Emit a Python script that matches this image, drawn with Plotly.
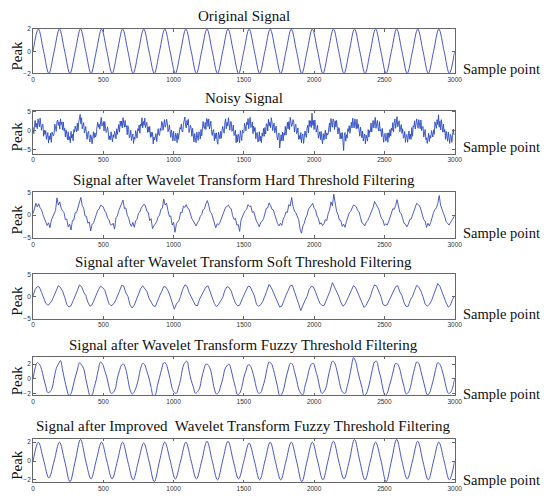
import numpy as np
import plotly.graph_objects as go

titles = ['Original Signal',
          'Noisy Signal',
          'Signal after Wavelet Transform Hard Threshold Filtering',
          'Signal after Wavelet Transform Soft Threshold Filtering',
          'Signal after Wavelet Transform Fuzzy Threshold Filtering',
          'Signal after Improved  Wavelet Transform Fuzzy Threshold Filtering']

x_ticks = [0, 500, 1000, 1500, 2000, 2500, 3000]

original = [
    0, 2, 0, -2, 0, 2, 0, -2, 0, 2, 0, -2, 0, 2, 0, -2, 0, 2, 0, -2,
    0, 2, 0, -2, 0, 2, 0, -2, 0, 2, 0, -2, 0, 2, 0, -2, 0, 2, 0, -2,
    0, 2, 0, -2, 0, 2, 0, -2, 0, 2, 0, -2, 0, 2, 0, -2, 0, 2, 0, -2,
    0, 2, 0, -2, 0, 2, 0, -2, 0, 2, 0, -2, 0, 2, 0, -2, 0, 2, 0, -2,
    0]

noisy = [
    0.9, -0.8, 1.2, 2.7, 0.9, 1.9, 0.5, 3.1, 2.3, 1.0, 3.3, 1.2, 0.1, 1.5, 1.7, -1.5, 0.1, -1.0, 0.0, -2.3, -1.6, -0.5, -3.3, -1.4, -2.4, -0.7, -3.1, -0.4, -0.9, -1.4,
    -0.7, 1.7, 0.6, -0.2, 2.4, 2.8, 1.4, 2.3, 0.4, 3.1, 1.6, 2.3, 0.2, 2.3, 0.0, 0.6, -1.7, 0.2, -1.0, -2.4, -0.3, -2.5, -1.6, -3.2, -0.2, -2.0, -1.0, -2.7, 0.3, -0.4,
    1.2, 0.5, -0.3, 2.0, 0.0, 2.2, 3.2, 4.3, 1.8, 3.4, 0.5, 1.9, 2.1, -0.6, 0.4, 1.1, -1.0, -2.3, -0.5, -0.2, -2.1, -3.0, -1.1, -1.7, -3.5, -1.1, -0.3, -2.0, -0.6, -1.7,
    -1.1, 1.0, 2.2, 0.9, 1.7, 0.4, 2.8, 3.5, 1.2, 1.5, 2.4, -0.1, 2.4, 1.1, -0.5, -0.2, 1.0, -0.3, -2.4, -1.4, -2.4, -0.3, -2.5, -3.0, -1.1, -1.8, -0.2, -0.8, -2.2, 0.5,
    -1.0, 0.3, 1.6, -0.4, 2.5, 1.2, 2.5, 0.7, 3.4, 2.0, 0.9, 2.7, 1.0, 1.3, -1.1, 1.3, 0.3, -1.9, -1.5, 0.1, -2.6, -1.6, -0.9, -3.4, -1.7, -2.3, 0.0, -0.8, -2.0, 0.5,
    0.0, 1.5, -0.7, 1.7, 1.2, 3.4, 0.7, 2.4, 1.4, 3.3, 0.8, 1.7, 2.2, -0.5, 1.0, -0.4, 1.1, -1.8, -0.4, -1.6, -0.5, -3.5, -1.7, -2.5, -0.8, -0.8, -2.9, -1.4, 0.5, -1.1,
    -1.3, 0.6, 0.0, 2.4, 2.1, 0.1, 2.2, 2.9, 0.9, 1.5, 3.0, 2.2, -0.3, 0.2, 1.5, 0.0, -1.8, 0.1, -0.8, -2.7, -0.2, -2.1, -2.7, -0.7, -1.4, -3.2, -0.7, -2.3, -0.7, 0.8,
    0.4, 1.7, -0.1, -0.4, 1.7, 2.8, 3.6, 1.5, 0.7, 2.7, 1.5, 3.0, -0.5, 0.4, 1.4, 0.6, -1.5, 0.6, -1.9, -3.0, -0.8, -1.6, -3.2, -0.4, -2.0, -2.6, -0.3, -0.7, -2.2, 0.3,
    -1.4, 1.1, 2.4, 0.9, 0.5, 2.2, 0.3, 3.2, 2.9, 1.1, 3.1, 0.4, 1.4, 2.5, -0.2, -1.3, 0.0, 0.3, -2.7, -0.7, -2.1, -0.6, -2.9, -3.6, -0.4, -1.6, -2.2, -0.2, -2.0, 0.2,
    1.1, -0.2, -0.7, 2.1, 3.1, 0.5, 2.2, 1.2, 3.4, 1.9, 0.1, 2.3, 2.4, -0.2, 0.1, 1.5, -1.3, -1.0, 0.1, -3.2, -1.1, -3.0, -1.0, -1.6, -3.2, 0.0, -2.0, -2.6, 0.1, -0.6,
    -0.5, 1.9, 1.0, -0.1, 2.2, 1.6, 3.2, 0.5, 2.5, 3.5, 0.8, 1.1, 2.3, -0.8, 1.2, -0.2, 0.8, -2.2, -0.9, -0.5, -3.0, -2.5, -0.3, -2.8, -1.5, -3.2, -0.6, -1.5, 0.6, -1.5,
    0.8, -0.9, 1.8, 1.7, -0.1, 3.0, 1.2, 2.2, 0.8, 3.4, 2.3, 0.0, 1.1, 2.0, -0.6, 0.7, 1.2, -1.4, -2.5, -1.1, -0.6, -4.6, -2.0, -1.1, -2.7, -0.4, -2.7, -0.6, -1.2, 1.1,
    -1.2, 0.7, 2.2, 0.5, 2.4, 0.2, 3.5, 2.4, 1.1, 1.6, 2.9, 2.2, -0.4, 1.3, 1.7, -0.8, -0.5, 0.7, -2.3, -1.3, -2.3, -0.5, -3.3, -1.2, -0.9, -3.4, -1.2, -0.1, -1.3, -1.8,
    0.6, 1.4, -0.6, 2.7, 1.1, 2.6, 0.8, 4.6, 1.4, 2.7, 0.3, 2.8, 1.6, -0.4, 0.5, 1.4, -2.0, -0.3, -0.3, -2.4, -0.2, -2.2, -3.5, -0.8, -2.5, -1.1, 0.1, -2.2, -0.6, -1.2,
    -0.9, 0.9, 2.0, -0.3, 3.2, 1.7, 0.9, 3.1, 2.6, 0.3, 2.6, 1.0, 2.7, 0.6, -0.9, 0.8, 0.6, -2.2, -0.6, -2.1, -0.5, -2.8, -5.3, -1.3, -0.5, -2.8, -1.1, -2.0, 0.5, -0.2,
    1.3, -0.7, 1.4, 2.2, 0.7, 3.3, 1.5, 0.7, 3.1, 2.2, 0.5, 3.0, 0.6, 1.7, 0.6, -1.5, 0.9, -0.8, -1.9, -0.1, -2.7, -1.4, -0.9, -3.5, -1.2, -2.0, -2.8, 0.3, -1.7, 0.0,
    -0.3, 2.0, -0.4, 1.6, 2.7, 0.7, 2.7, 3.5, 0.6, 2.4, 2.7, 0.8, -0.1, 2.4, -0.1, 0.3, -1.6, 0.6, -1.1, -3.1, -1.0, -0.7, -2.8, -2.2, -0.6, -3.1, -0.6, -1.8, 0.3, -1.4,
    0.7, 0.0, 2.1, -0.4, 2.1, 3.1, 0.6, 2.2, 3.7, 1.0, 2.1, 2.6, -0.3, 0.8, 1.6, -0.7, 0.5, -2.0, -1.7, -0.2, -3.1, -1.3, -1.0, -3.1, -2.1, -0.1, -2.3, -0.9, -2.3, 0.8,
    -1.5, 1.3, 0.9, 2.6, 0.4, 2.2, 3.1, 1.4, 0.6, 2.9, 2.0, 0.5, 2.8, 0.0, 1.0, 1.1, -1.7, -0.6, 0.3, -2.4, -1.9, -3.4, -1.2, -0.7, -2.9, -1.3, -2.0, 0.0, -0.8, -1.7,
    0.2, -1.0, 2.3, 1.5, 0.6, 2.9, 1.6, 4.2, 0.9, 2.5, 0.2, 2.9, 1.7, -0.4, 1.7, -0.4, 0.3, -2.3, -0.2, -1.3, -2.8, -0.4, -2.6, -3.4, -1.0, -1.6, -3.1, -0.4, 0.4, -1.1,
    -1.0]

hard = [
    0.3, 1.4, 2.6, 1.8, 2.5, 1.6, 1.2, 0.1, -0.6, -1.5, -2.3, -1.7, -2.8, -1.1, -0.4,
    0.2, 1.0, 3.8, 2.2, 2.9, 1.5, 0.9, 0.6, -1.0, -0.9, -2.6, -2.0, -3.3, -1.2, -1.1,
    0.5, 0.6, 1.8, 2.4, 3.9, 2.1, 1.5, -0.2, -0.3, -1.8, -1.5, -3.5, -2.1, -1.7, -0.5,
    0.1, 1.1, 1.3, 2.2, 2.0, 1.8, 0.9, 0.5, -0.7, -1.0, -2.1, -2.2, -1.8, -3.1, -0.6,
    -0.2, 1.0, 1.9, 2.8, 3.3, 1.4, 1.6, 0.0, -0.6, -1.9, -2.5, -1.6, -2.7, -1.3, -0.9,
    0.4, 0.7, 1.6, 2.1, 2.4, 2.0, 0.8, 0.6, -1.2, -0.8, -3.0, -2.3, -2.0, -1.4, -0.4,
    0.0, 1.3, 1.5, 3.5, 2.2, 2.6, 1.0, -0.3, -0.2, -2.2, -1.6, -3.8, -1.9, -1.5, -1.0,
    0.6, 0.5, 2.0, 1.7, 2.3, 1.5, 1.3, 0.2, -0.8, -1.3, -2.0, -2.4, -1.7, -1.2, -0.3,
    0.1, 1.2, 1.4, 2.5, 3.2, 2.2, 0.7, 0.4, -0.5, -1.6, -2.8, -1.9, -2.2, -1.6, -0.7,
    -0.1, 0.9, 1.7, 1.9, 2.2, 1.6, 1.4, -0.1, -1.0, -0.7, -2.2, -2.1, -3.6, -1.1, -0.2,
    0.4, 1.0, 1.3, 2.3, 1.9, 2.0, 0.6, 0.8, -0.6, -1.4, -1.9, -2.6, -1.6, -1.4, -0.8,
    0.2, 1.5, 1.6, 2.7, 2.1, 1.3, 1.1, 0.0, -0.9, -1.9, -2.4, -1.8, -2.3, -0.9, -0.3,
    0.7, 0.6, 2.3, 2.0, 3.9, 1.9, 0.9, 0.5, -0.4, -1.0, -3.1, -4.0, -2.4, -1.8, -0.6,
    0.0, 1.3, 1.8, 2.4, 2.6, 1.5, 1.2, -0.2, -0.7, -2.0, -1.7, -2.3, -1.9, -1.0, -1.2,
    0.3, 1.1, 2.9, 2.0, 4.6, 2.3, 0.8, 0.1, -1.1, -1.2, -2.5, -2.0, -2.7, -1.4, -0.5,
    0.5, 0.8, 1.5, 2.2, 2.1, 1.8, 1.0, 0.7, -0.5, -1.7, -1.9, -2.4, -1.6, -1.3, -0.6,
    0.2, 1.0, 1.7, 3.0, 2.4, 1.6, 1.3, 0.1, -0.8, -1.1, -2.3, -1.9, -2.2, -1.5, -0.4,
    0.4, 1.4, 1.3, 2.1, 3.4, 1.7, 0.6, 0.3, -0.6, -1.8, -2.0, -2.6, -2.0, -1.0, -0.9,
    0.1, 0.9, 2.0, 2.6, 2.3, 2.1, 1.2, -0.1, -1.0, -1.3, -2.7, -1.8, -2.4, -1.6, -0.3,
    0.6, 1.2, 1.6, 2.5, 4.3, 2.2, 1.0, 0.4, -0.4, -1.5, -1.8, -2.2, -1.7, -1.2, -0.5,
    -0.1]

soft = [
    0.1, 1.6, 2.2, 2.1, 0.9, -0.3, -1.5, -2.0, -1.6, -0.9,
    0.3, 1.4, 2.4, 2.0, 1.2, -0.2, -1.8, -2.4, -2.1, -1.0,
    0.0, 1.3, 2.6, 2.2, 1.0, 0.2, -1.3, -2.2, -1.9, -0.7,
    0.2, 1.5, 2.3, 2.0, 1.4, -0.1, -1.6, -2.1, -1.8, -1.1,
    -0.1, 1.2, 2.5, 2.3, 0.8, 0.0, -1.9, -2.6, -2.0, -0.8,
    0.4, 1.7, 2.4, 1.8, 1.1, -0.4, -1.4, -2.1, -2.3, -0.9,
    0.1, 1.1, 2.2, 2.1, 1.3, 0.1, -1.7, -2.9, -1.7, -1.2,
    0.0, 1.6, 2.6, 2.3, 0.9, -0.2, -1.2, -2.0, -2.1, -0.6,
    0.3, 1.3, 2.1, 2.4, 1.0, 0.0, -1.6, -2.3, -1.8, -1.0,
    -0.2, 1.4, 2.2, 2.0, 1.2, -0.3, -1.5, -2.1, -2.0, -0.8,
    0.2, 1.2, 2.3, 2.2, 1.1, 0.1, -1.8, -2.2, -1.9, -1.1,
    0.1, 1.5, 2.7, 2.0, 0.8, -0.1, -1.4, -2.4, -2.2, -0.7,
    0.3, 1.3, 2.4, 2.5, 1.2, 0.0, -1.7, -3.2, -1.9, -0.9,
    0.0, 1.6, 2.3, 2.1, 1.0, -0.2, -1.5, -2.0, -2.1, -1.0,
    0.2, 1.4, 3.1, 2.2, 1.3, 0.1, -1.3, -2.2, -1.8, -0.8,
    0.1, 1.2, 2.4, 2.0, 0.9, -0.3, -1.6, -2.5, -2.0, -1.2,
    -0.1, 1.5, 2.6, 2.3, 1.1, 0.0, -1.8, -2.1, -1.9, -0.9,
    0.3, 1.4, 2.2, 2.4, 1.0, 0.2, -1.4, -2.3, -2.2, -0.8,
    0.0, 1.3, 2.5, 2.1, 1.2, -0.1, -1.7, -2.2, -1.8, -1.0,
    0.2, 1.6, 2.9, 2.3, 0.9, 0.0, -1.5, -2.4, -2.0, -0.7,
    0.1]

fuzzy = [
    0.0, 1.5, 2.2, 2.0, 1.3, 0.1, -1.0, -1.9, -1.8, -1.3,
    0.1, 1.4, 2.0, 2.5, 1.2, -0.2, -1.4, -2.3, -2.0, -1.0,
    0.2, 1.2, 2.2, 1.9, 1.4, 0.0, -1.3, -2.3, -2.2, -1.2,
    -0.1, 1.3, 2.3, 2.0, 1.1, 0.2, -1.1, -2.0, -1.9, -1.4,
    0.1, 1.1, 1.9, 2.0, 1.3, -0.1, -1.5, -2.1, -1.8, -1.1,
    0.0, 1.4, 2.1, 1.9, 1.0, 0.1, -1.2, -2.3, -2.2, -0.9,
    0.2, 1.3, 2.2, 2.1, 1.2, 0.0, -1.3, -1.9, -2.0, -1.2,
    -0.1, 1.5, 2.2, 2.4, 1.1, -0.2, -1.1, -2.0, -1.8, -1.3,
    0.1, 1.2, 2.0, 1.9, 1.4, 0.1, -1.4, -2.1, -1.9, -1.0,
    0.0, 1.3, 1.8, 2.0, 1.2, -0.1, -1.2, -2.2, -2.0, -1.2,
    0.2, 1.1, 1.9, 1.8, 1.1, 0.0, -1.3, -2.0, -1.9, -1.1,
    -0.1, 1.4, 2.3, 2.1, 1.3, 0.1, -1.1, -2.3, -2.1, -1.3,
    0.1, 1.2, 2.1, 2.0, 1.0, -0.1, -1.4, -2.0, -2.2, -1.0,
    0.0, 1.3, 2.0, 2.1, 1.2, 0.2, -1.2, -2.0, -1.8, -1.2,
    0.2, 1.5, 2.4, 2.2, 1.3, 0.0, -1.3, -1.9, -2.0, -1.1,
    0.1, 1.6, 2.9, 2.4, 1.1, -0.1, -1.2, -2.3, -2.1, -1.3,
    -0.1, 1.3, 2.3, 2.4, 1.2, 0.1, -1.4, -2.3, -2.0, -1.0,
    0.0, 1.2, 2.1, 2.0, 1.3, 0.0, -1.1, -2.1, -1.9, -1.2,
    0.2, 1.4, 2.3, 2.1, 1.0, -0.1, -1.3, -2.2, -2.0, -1.1,
    0.0, 1.3, 2.2, 2.0, 1.2, 0.1, -1.2, -2.0, -1.9, -1.3,
    0.0]

improved = [
    0, 2.0, 0.1, -1.8, 0, 2.0, 0.0, -2.2, 0, 2.3, 0.0, -1.9,
    0.1, 2.0, 0.0, -1.9, 0, 2.0, -0.1, -2.0, 0, 1.9, 0.0, -2.2,
    0, 2.0, 0.1, -1.9, 0, 2.0, 0.0, -1.9, 0, 2.1, 0.0, -2.0,
    0.1, 2.1, 0.0, -1.9, 0, 1.9, 0.0, -2.0, 0, 2.0, -0.1, -2.0,
    0, 2.0, 0.0, -2.2, 0, 2.0, 0.0, -2.0, 0.1, 2.1, 0.0, -1.9,
    0, 2.3, 0.0, -2.0, 0, 2.0, 0.1, -2.2, 0, 2.3, 0.0, -1.9,
    0, 2.1, -0.1, -2.0, 0, 2.0, 0.0, -2.0,
    0]

series = [original, noisy, hard, soft, fuzzy, improved]
y_ranges = [[-2, 2], [-6.1, 5.3], [-5, 5], [-5, 5], [-2.3, 3.05], [-2.25, 2.35]]
y_ticks = [[-2, 0, 2], [-5, 0, 5], [-5, 0, 5], [-5, 0, 5], [-2, 0, 2], [-2, 0, 2]]

# the page body adds an 8px margin, so the figure is drawn that much smaller
# and all pixel positions below (measured on the picture) are shifted back
PAGE = 8
W, H = 550 - PAGE, 501 - PAGE
boxes = [(25.3, 70.3), (108, 151.7), (191, 237), (274, 319), (357.5, 397), (441, 485)]
title_y = [12.5, 95.5, 178, 262, 345.5, 428]
sample_y = [66, 145, 232, 314, 396, 483]
x_left, x_right = 31.5, 461


def px(x):
    return (x - PAGE) / W


def py(y):
    return 1 - (y - PAGE) / H


serif = 'Times New Roman, Liberation Serif, serif'
line_colours = ['#4a55c8', '#2c4cc4', '#3c4cc0', '#3f4ec2', '#4a55c8', '#4a55c8']
line_widths = [1, 0.9, 0.9, 0.9, 1, 1]
shapes = ['spline', 'linear', 'linear', 'linear', 'spline', 'spline']

fig = go.Figure()
annotations = []
layout = {}

for i, vals in enumerate(series):
    n = i + 1
    xs = np.linspace(0, 3000, len(vals))
    fig.add_trace(go.Scatter(
        x=xs, y=vals, mode='lines',
        line=dict(color=line_colours[i], width=line_widths[i], shape=shapes[i]),
        xaxis='x%d' % n, yaxis='y%d' % n, showlegend=False, hoverinfo='skip'))

    top, bot = boxes[i]
    axis_style = dict(showline=True, linecolor='#666', linewidth=1, mirror='ticks',
                      ticks='inside', ticklen=2.5, tickcolor='#666',
                      showgrid=False, zeroline=False,
                      tickfont=dict(family='Arial, Liberation Sans, sans-serif', size=6.5, color='#333'))
    layout['xaxis%d' % n] = dict(domain=[px(x_left), px(x_right)], range=[0, 3000],
                                 tickvals=x_ticks, anchor='y%d' % n, **axis_style)
    layout['yaxis%d' % n] = dict(domain=[py(bot), py(top)], range=y_ranges[i],
                                 tickvals=y_ticks[i], anchor='x%d' % n, **axis_style)

    annotations.append(dict(text=titles[i], x=px((x_left + x_right) / 2), y=py(title_y[i]),
                            xref='paper', yref='paper', xanchor='center', yanchor='middle',
                            showarrow=False, font=dict(family=serif, size=15, color='#111')))
    annotations.append(dict(text='Peak', x=px(15.5), y=py((top + bot) / 2 + 4),
                            xref='paper', yref='paper', xanchor='center', yanchor='middle',
                            textangle=-90, showarrow=False, borderpad=0,
                            font=dict(family=serif, size=15, color='#111')))
    annotations.append(dict(text='Sample point', x=px(469), y=py(sample_y[i]),
                            xref='paper', yref='paper', xanchor='left', yanchor='middle',
                            showarrow=False, borderpad=0,
                            font=dict(family=serif, size=14.5, color='#111')))

fig.update_layout(width=W, height=H, margin=dict(l=0, r=0, t=0, b=0),
                  paper_bgcolor='white', plot_bgcolor='white',
                  annotations=annotations, **layout)

fig.write_html("out.html")
